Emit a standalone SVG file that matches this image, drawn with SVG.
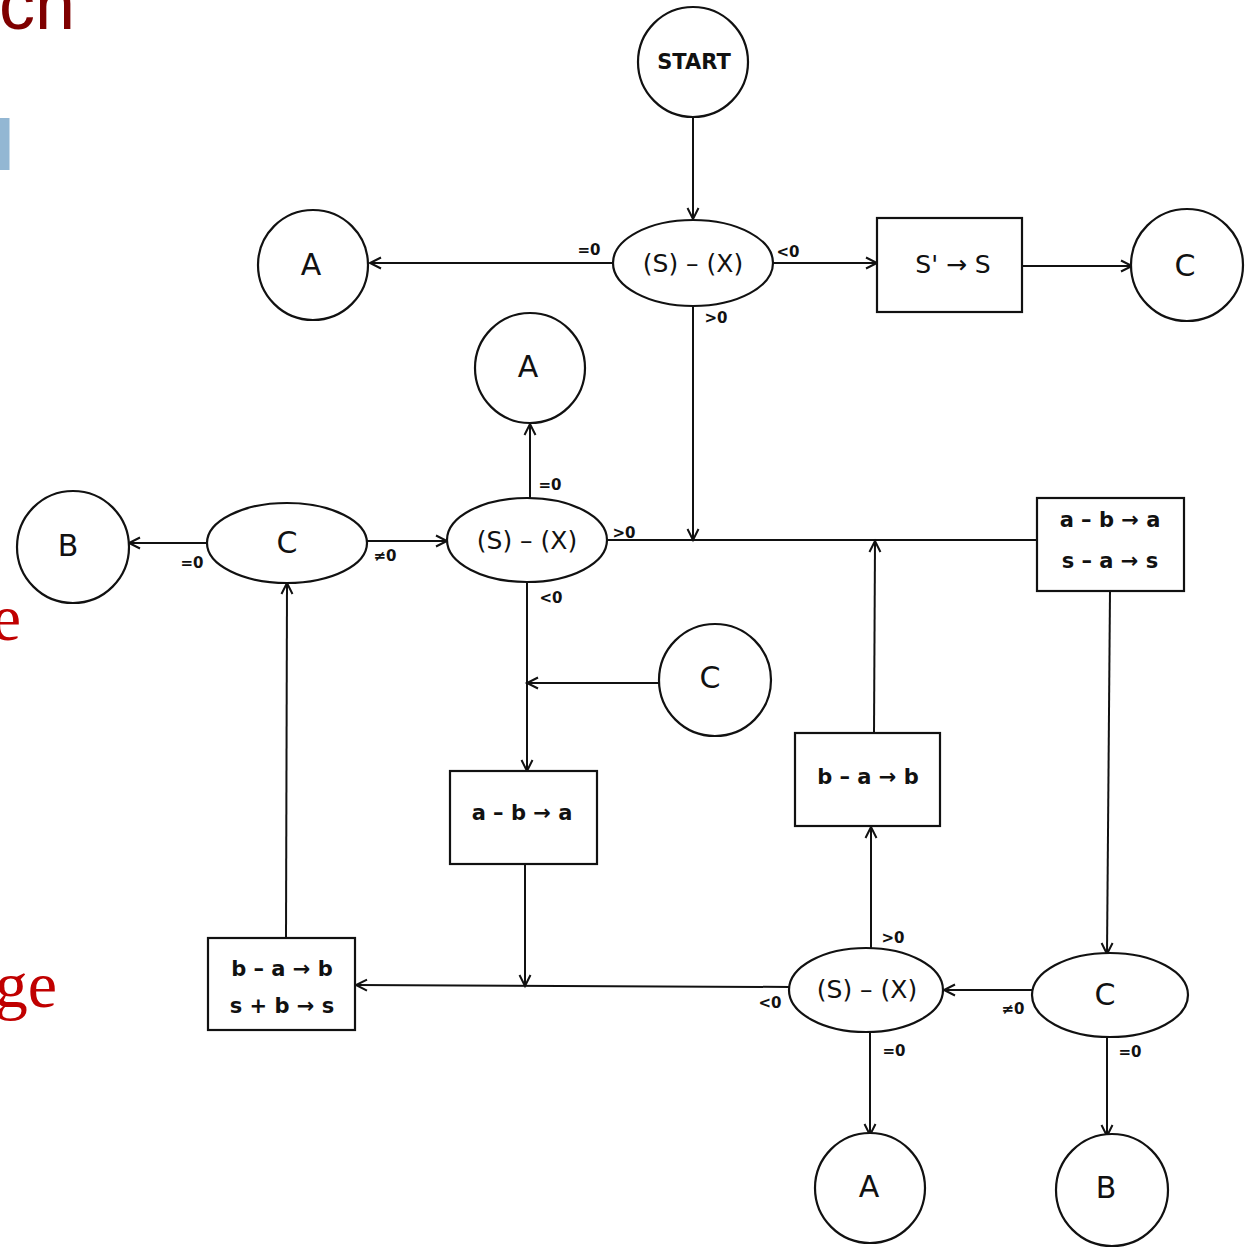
<svg xmlns="http://www.w3.org/2000/svg" width="1255" height="1248" viewBox="0 0 1255 1248">
<defs>
<marker id="arr" markerUnits="userSpaceOnUse" markerWidth="16" markerHeight="16" refX="13" refY="8" orient="auto">
<path d="M2,2.5 L13,8 L2,13.5" fill="none" stroke="#111" stroke-width="2"/>
</marker>
<style>
.n{fill:#fff;stroke:#111;stroke-width:2.2}
.c{fill:none;stroke:#111;stroke-width:2}
.t{font-family:"DejaVu Sans","Liberation Sans",sans-serif;fill:#111;text-anchor:middle;dominant-baseline:central}
.big{font-size:30px}
.mid{font-size:25px}
.box{font-size:21px;font-weight:bold}
.lab{font-family:"DejaVu Sans","Liberation Sans",sans-serif;fill:#111;font-size:15px;text-anchor:middle;dominant-baseline:central;font-weight:bold}
.slide{font-family:"Liberation Serif",serif;fill:#c00000}
</style>
</defs>
<rect width="1255" height="1248" fill="#fff"/>
<g id="slide-bg">
<text x="-1" y="29" font-family="'Liberation Sans',sans-serif" font-size="72" fill="#7f0000">ch</text>
<rect x="0" y="118" width="9.5" height="52" fill="#93b7d3"/>
<text class="slide" x="21" y="640" font-size="66" text-anchor="end">e</text>
<text class="slide" x="57" y="1007" font-size="66" text-anchor="end">ge</text>
</g>
<g id="connectors">
<line class="c" x1="693" y1="118" x2="693" y2="219" marker-end="url(#arr)"/>
<line class="c" x1="613" y1="263" x2="370" y2="263" marker-end="url(#arr)"/>
<line class="c" x1="773" y1="263" x2="877" y2="263" marker-end="url(#arr)"/>
<line class="c" x1="1022" y1="266" x2="1132" y2="266" marker-end="url(#arr)"/>
<line class="c" x1="693" y1="306" x2="693" y2="540" marker-end="url(#arr)"/>
<line class="c" x1="607" y1="540" x2="1037" y2="540"/>
<line class="c" x1="530" y1="498" x2="530" y2="424" marker-end="url(#arr)"/>
<line class="c" x1="367" y1="541" x2="447" y2="541" marker-end="url(#arr)"/>
<line class="c" x1="207" y1="543" x2="129" y2="543" marker-end="url(#arr)"/>
<line class="c" x1="527" y1="582" x2="527" y2="771" marker-end="url(#arr)"/>
<line class="c" x1="659" y1="683" x2="527" y2="683" marker-end="url(#arr)"/>
<line class="c" x1="525" y1="864" x2="525" y2="986" marker-end="url(#arr)"/>
<line class="c" x1="1110" y1="591" x2="1107" y2="954" marker-end="url(#arr)"/>
<line class="c" x1="1032" y1="990" x2="944" y2="990" marker-end="url(#arr)"/>
<line class="c" x1="871" y1="948" x2="871" y2="827" marker-end="url(#arr)"/>
<line class="c" x1="874" y1="733" x2="875" y2="541" marker-end="url(#arr)"/>
<line class="c" x1="870" y1="1032" x2="870" y2="1135" marker-end="url(#arr)"/>
<line class="c" x1="1107" y1="1037" x2="1107" y2="1136" marker-end="url(#arr)"/>
<line class="c" x1="790" y1="987" x2="356" y2="985" marker-end="url(#arr)"/>
<line class="c" x1="286" y1="938" x2="287" y2="583" marker-end="url(#arr)"/>
</g>
<g id="start"><circle class="n" cx="693" cy="62" r="55"/><text class="t" x="694" y="62" font-size="21" font-weight="bold">START</text></g>
<g id="test1"><ellipse class="n" cx="693" cy="263" rx="80" ry="43"/><text class="t mid" x="693" y="263">(S) – (X)</text>
<text class="lab" x="589" y="250">=0</text><text class="lab" x="788" y="252">&lt;0</text><text class="lab" x="716" y="318">&gt;0</text></g>
<g id="a1"><circle class="n" cx="313" cy="265" r="55"/><text class="t big" x="311" y="264">A</text></g>
<g id="box-s1"><rect class="n" x="877" y="218" width="145" height="94"/><text class="t mid" x="953" y="264">S' → S</text></g>
<g id="c1"><circle class="n" cx="1187" cy="265" r="56"/><text class="t big" x="1185" y="265">C</text></g>
<g id="a2"><circle class="n" cx="530" cy="368" r="55"/><text class="t big" x="528" y="366">A</text></g>
<g id="test2"><ellipse class="n" cx="527" cy="540" rx="80" ry="42"/><text class="t mid" x="527" y="540">(S) – (X)</text>
<text class="lab" x="550" y="485">=0</text><text class="lab" x="624" y="533">&gt;0</text><text class="lab" x="551" y="598">&lt;0</text></g>
<g id="c-ell-left"><ellipse class="n" cx="287" cy="543" rx="80" ry="40"/><text class="t big" x="287" y="542">C</text>
<text class="lab" x="385" y="556">≠0</text><text class="lab" x="192" y="563">=0</text></g>
<g id="b1"><circle class="n" cx="73" cy="547" r="56"/><text class="t big" x="68" y="545">B</text></g>
<g id="box-r"><rect class="n" x="1037" y="498" width="147" height="93"/><text class="t box" x="1110" y="520">a – b → a</text><text class="t box" x="1110" y="561">s – a → s</text></g>
<g id="c2"><circle class="n" cx="715" cy="680" r="56"/><text class="t big" x="710" y="677">C</text></g>
<g id="box-ab"><rect class="n" x="450" y="771" width="147" height="93"/><text class="t box" x="522" y="813">a – b → a</text></g>
<g id="box-ba"><rect class="n" x="795" y="733" width="145" height="93"/><text class="t box" x="868" y="777">b – a → b</text></g>
<g id="box-ll"><rect class="n" x="208" y="938" width="147" height="92"/><text class="t box" x="282" y="969">b – a → b</text><text class="t box" x="282" y="1006">s + b → s</text></g>
<g id="test3"><ellipse class="n" cx="866" cy="990" rx="77" ry="42"/><text class="t mid" x="867" y="989">(S) – (X)</text>
<text class="lab" x="893" y="938">&gt;0</text><text class="lab" x="770" y="1003">&lt;0</text><text class="lab" x="894" y="1051">=0</text></g>
<g id="c-ell-right"><ellipse class="n" cx="1110" cy="995" rx="78" ry="42"/><text class="t big" x="1105" y="994">C</text>
<text class="lab" x="1013" y="1009">≠0</text><text class="lab" x="1130" y="1052">=0</text></g>
<g id="a3"><circle class="n" cx="870" cy="1188" r="55"/><text class="t big" x="869" y="1186">A</text></g>
<g id="b2"><circle class="n" cx="1112" cy="1190" r="56"/><text class="t big" x="1106" y="1187">B</text></g>
</svg>
